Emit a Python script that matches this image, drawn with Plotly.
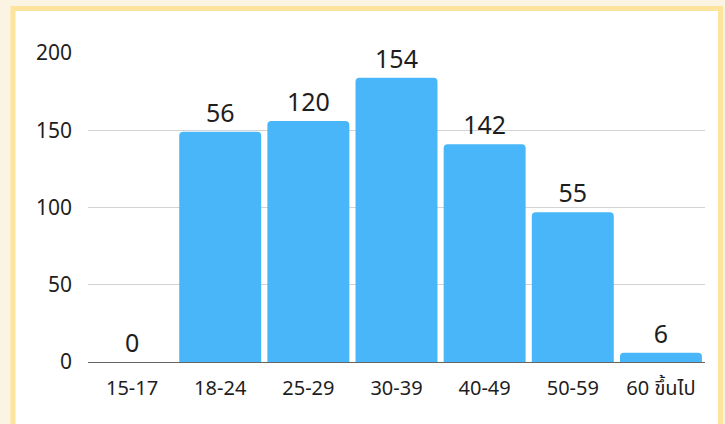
import plotly.graph_objects as go

categories = ["15-17", "18-24", "25-29", "30-39", "40-49", "50-59", "60 ขึ้นไป"]
bar_values = [0, 149, 156, 184, 141, 97, 6]
label_texts = ["0", "56", "120", "154", "142", "55", "6"]
y_ticks = [0, 50, 100, 150, 200]

W, H = 725, 424
L, R, T, B = 88, 20, 53, 62

FONT = "Noto Sans, Noto Sans Thai, Loma, Garuda, sans-serif"

fig = go.Figure(
    go.Bar(
        x=categories,
        y=bar_values,
        text=label_texts,
        texttemplate="%{text}",
        textposition="outside",
        cliponaxis=False,
        marker=dict(color="#48B6F9", cornerradius=4, line=dict(width=0)),
        textfont=dict(size=25, color="#1E1E1E", family=FONT),
        hoverinfo="skip",
    )
)

pw = W - L - R
ph = H - T - B

def px_x(v):
    return (v - L) / pw

def px_y(v):
    return (H - B - v) / ph

fig.add_shape(
    type="rect", xref="paper", yref="paper", layer="below",
    x0=px_x(13), x1=px_x(720.5), y0=px_y(440), y1=px_y(8.5),
    fillcolor="#FFFFFF", line=dict(color="#FDE49C", width=5),
)

fig.update_layout(
    width=W, height=H,
    margin=dict(l=L, r=R, t=T, b=B, pad=0, autoexpand=False),
    paper_bgcolor="#FCF4E3",
    plot_bgcolor="rgba(0,0,0,0)",
    bargap=0.07,
    showlegend=False,
    font=dict(family=FONT, color="#1E1E1E"),
    xaxis=dict(
        showgrid=False, showline=False, zeroline=False, ticks="",
        tickfont=dict(size=20, color="#1E1E1E"), ticklabelstandoff=12,
        automargin=False,
    ),
    yaxis=dict(
        range=[0, 200], tickvals=y_ticks, showgrid=True, gridcolor="#D3D3D3",
        gridwidth=1, zeroline=True, zerolinecolor="#666666", zerolinewidth=1,
        showline=False, ticks="", tickfont=dict(size=21, color="#1E1E1E"),
        ticklabelstandoff=15, automargin=False,
    ),
)

fig.write_html(
    "out.html",
    config={"displayModeBar": False, "staticPlot": True},
    post_script="document.body.style.margin='0';document.body.style.padding='0';",
)
